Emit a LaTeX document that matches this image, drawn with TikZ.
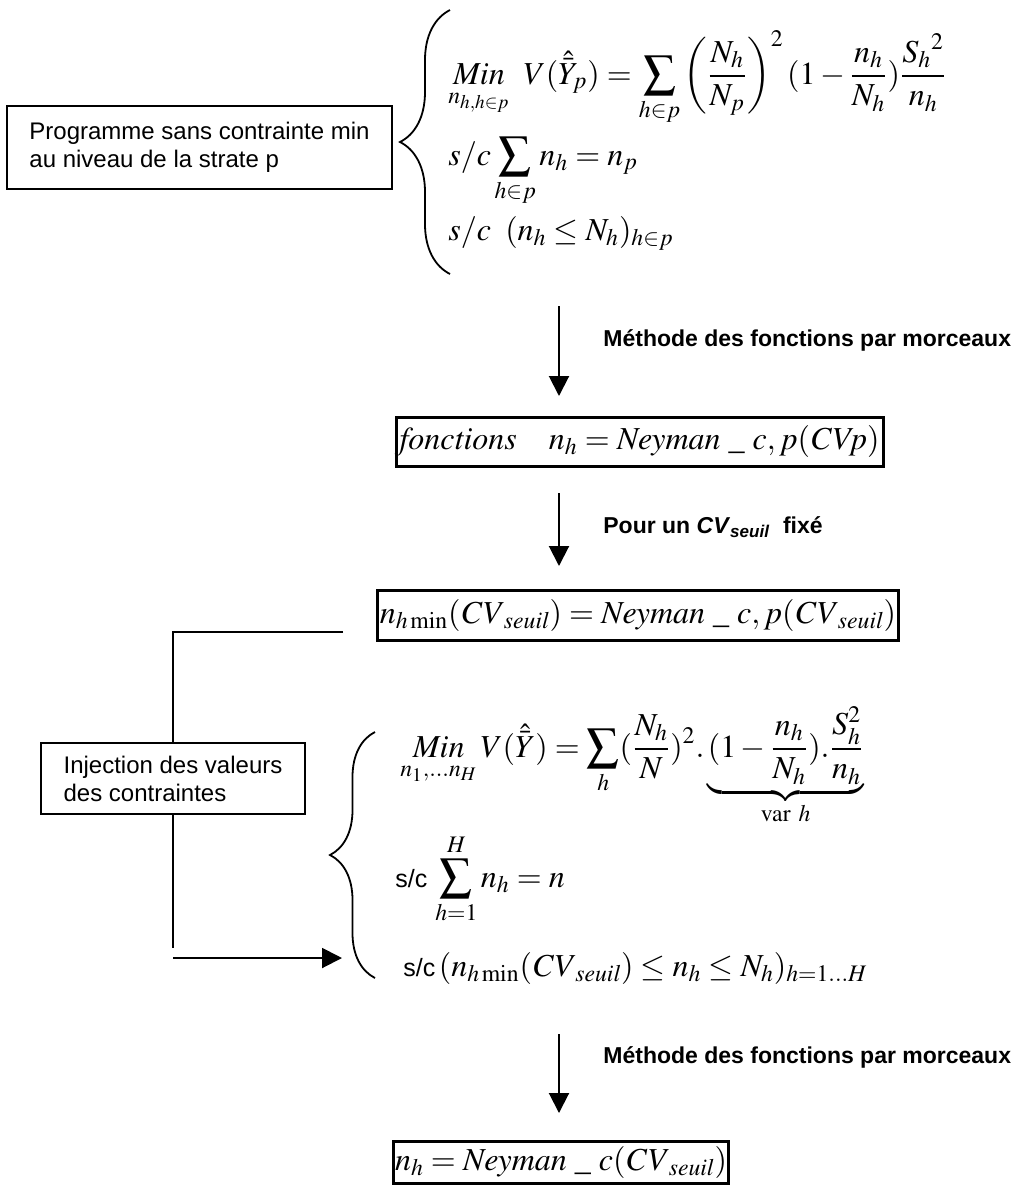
\documentclass[tikz,border=0pt]{standalone}
\usepackage{amsmath}
\usepackage{mathptmx}
\usepackage[no-math]{fontspec}
\setmainfont{Liberation Serif}
\setsansfont{Liberation Sans}
\usetikzlibrary{arrows.meta,decorations.pathreplacing}

\tikzset{
  txtbox/.style={draw, line width=1pt, align=left, font=\sffamily\fontsize{12}{14}\selectfont},
  eqbox/.style={draw, line width=1.5pt, inner sep=1pt, font=\fontsize{16}{19}\selectfont},
  eq/.style={anchor=base west, inner sep=0pt, font=\fontsize{16}{19}\selectfont},
  lbl/.style={anchor=west, inner sep=0pt, font=\sffamily\bfseries\fontsize{11.5}{14}\selectfont},
  arr/.style={line width=1pt, -{Triangle[length=10pt,width=10pt]}},
  conn/.style={line width=1pt},
  accol/.style={decorate, decoration={brace, amplitude=#1}, line width=0.9pt},
  accol/.default=25pt
}
\newcommand{\seuil}{\mathit{CV}_{\mathit{seuil}}}
\newcommand{\ney}{\mathit{Neyman}\ \_\ c}

\begin{document}
\begin{tikzpicture}[x=0.5pt,y=-0.5pt]
        \useasboundingbox (0,0) rectangle (1029,1185);

        \node[txtbox, minimum width=192.5pt, minimum height=41.5pt] (prog) at (199.5,147.5)
            {Programme sans contrainte min\\au niveau de la strate p};
        \draw[accol=25pt] (450,274) -- (450,10);
        \node[eq] (obj1) at (448,84) {$\displaystyle \underset{n_{h,h\in p}}{\mathit{Min}}\;\; V(\hat{\bar{Y}}_p) = \sum_{h\in p}\left(\frac{N_h}{N_p}\right)^{2} (1-\frac{n_h}{N_h})\frac{{S_h}^{2}}{n_h}$};
        \node[eq] (ctr1) at (448,165) {$\displaystyle s/c\sum_{h\in p} n_h = n_p$};
        \node[eq] (bnd1) at (448,240) {$\displaystyle s/c\;\; (n_h \le N_h)_{h\in p}$};

        \coordinate (a1s) at (559,306);
        \coordinate (a1e) at (559,396);
        \draw[arr] (a1s) -- (a1e);
        \node[lbl] (meth1) at (603,340) {Méthode des fonctions par morceaux};

        \node[eqbox, minimum width=243.5pt, minimum height=24.5pt] (fonc) at (639.5,441.5)
            {$\mathit{fonctions} \quad n_h = \ney, p(\mathit{CVp})$};

        \coordinate (a2s) at (559,493);
        \coordinate (a2e) at (559,566);
        \draw[arr] (a2s) -- (a2e);
        \node[lbl] (seuil) at (603,527) {Pour un \textit{CV}\textsubscript{\textit{seuil}}\ \ fixé};

        \node[eqbox, minimum width=242pt, minimum height=25pt] (nmin) at (638,615)
            {$n_{h\min}(\seuil) = \ney, p(\seuil)$};

        \coordinate (ls) at (343,632);
        \node[txtbox, minimum width=132pt, minimum height=35.5pt] (inj) at (173,778.5)
            {Injection des valeurs\\des contraintes};
        \draw[conn] (ls) -| (inj.north);
        \coordinate (le) at (inj.south |- 0,948);
        \draw[conn] (inj.south) -- (le);
        \coordinate (as) at (inj.south |- 0,958);
        \coordinate (ae) at (342,958);
        \draw[arr] (as) -- (ae);

        \draw[accol=22.5pt] (375,978) -- (375,732);
        \node[eq] (obj2) at (400,757) {$\displaystyle \underset{n_1,\ldots n_H}{\mathit{Min}}\, V(\hat{\bar{Y}}) = \sum_{h} (\frac{N_h}{N})^{2} .\underbrace{(1-\frac{n_h}{N_h}).\frac{S_h^{2}}{n_h}}_{\mathrm{var}\ h}$};
        \node[eq] (ctr2) at (395,887) {{\sffamily\fontsize{12.5}{14}\selectfont s/c}\ $\displaystyle\sum_{h=1}^{H} n_h = n$};
        \node[eq] (bnd2) at (403,976) {{\sffamily\fontsize{12.5}{14}\selectfont s/c}$\,(n_{h\min}(\seuil) \le n_h \le N_h)_{h=1\ldots H}$};

        \coordinate (a3s) at (559,1034);
        \coordinate (a3e) at (559,1113);
        \draw[arr] (a3s) -- (a3e);
        \node[lbl] (meth2) at (603,1057) {Méthode des fonctions par morceaux};

        \node[eqbox, minimum width=165pt, minimum height=21pt] (neyman) at (561,1162)
            {$n_h = \ney(\seuil)$};
\end{tikzpicture}
\end{document}
